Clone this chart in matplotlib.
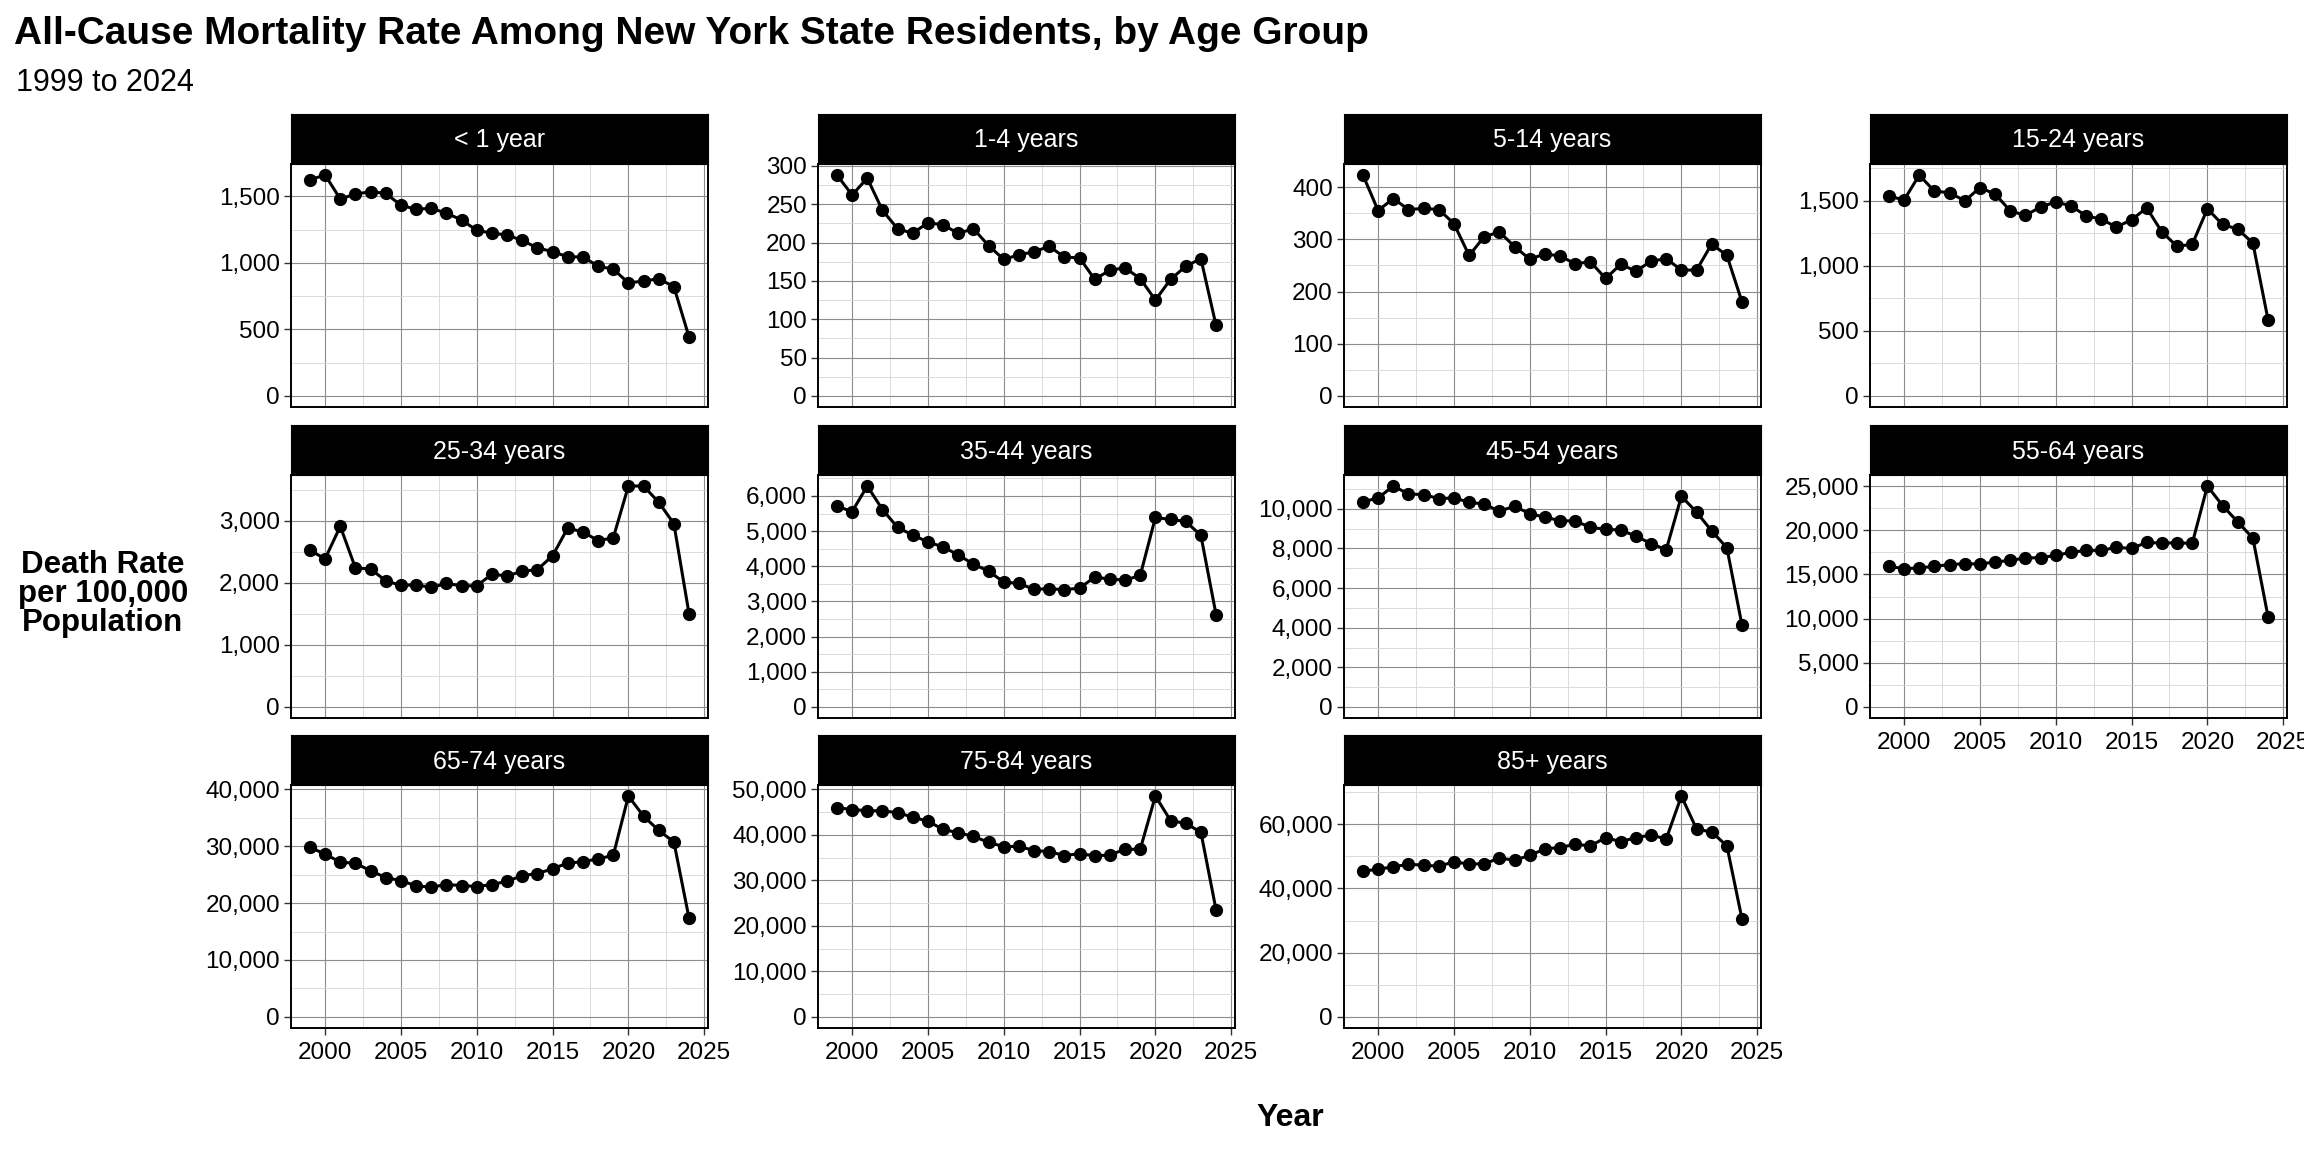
import matplotlib
matplotlib.use('Agg')
import matplotlib.pyplot as plt
from matplotlib.ticker import MultipleLocator, AutoMinorLocator, FuncFormatter

OUT = 'out.png'
FIG_W, FIG_H = 2304, 1152

TITLE = 'All-Cause Mortality Rate Among New York State Residents, by Age Group'
SUBTITLE = '1999 to 2024'
Y_LABEL = 'Death Rate\nper 100,000\nPopulation'
X_LABEL = 'Year'

years = list(range(1999, 2025))

age_groups = ['< 1 year', '1-4 years', '5-14 years', '15-24 years',
              '25-34 years', '35-44 years', '45-54 years', '55-64 years',
              '65-74 years', '75-84 years', '85+ years']

under_1 = [1625, 1660, 1480, 1517, 1535, 1522, 1433, 1403, 1410, 1373, 1323, 1244, 1224,
           1209, 1169, 1112, 1085, 1045, 1045, 975, 953, 850, 863, 881, 821, 443]
age_1_4 = [288, 262, 284, 242, 218, 212, 226, 223, 212, 218, 196, 178, 184,
           188, 195, 181, 180, 152, 164, 167, 153, 125, 152, 169, 179, 92]
age_5_14 = [423, 355, 378, 357, 359, 357, 330, 269, 305, 314, 286, 262, 272,
            268, 253, 257, 225, 252, 239, 258, 263, 241, 241, 291, 269, 180]
age_15_24 = [1536, 1508, 1699, 1574, 1564, 1500, 1602, 1553, 1424, 1388, 1454, 1492, 1462,
             1385, 1360, 1299, 1355, 1446, 1261, 1151, 1166, 1439, 1319, 1283, 1176, 586]
age_25_34 = [2521, 2388, 2910, 2239, 2223, 2032, 1957, 1968, 1926, 1989, 1952, 1952, 2138,
             2112, 2186, 2213, 2436, 2883, 2819, 2681, 2723, 3559, 3559, 3298, 2952, 1500]
age_35_44 = [5708, 5557, 6282, 5614, 5105, 4888, 4691, 4549, 4323, 4060, 3862, 3551, 3513,
             3344, 3363, 3334, 3381, 3692, 3636, 3607, 3739, 5388, 5331, 5275, 4879, 2628]
age_45_54 = [10350, 10550, 11150, 10750, 10717, 10517, 10550, 10333, 10233, 9883, 10133, 9750, 9583,
             9400, 9383, 9067, 8967, 8933, 8617, 8250, 7933, 10633, 9833, 8883, 8033, 4117]
age_55_64 = [15916, 15653, 15728, 15916, 16104, 16216, 16179, 16404, 16592, 16854, 16892, 17155, 17492,
             17718, 17718, 18056, 17943, 18619, 18544, 18581, 18506, 25000, 22785, 20946, 19107, 10210]
age_65_74 = [29797, 28580, 27188, 26957, 25681, 24464, 23942, 23014, 22783, 23246, 23072, 22899, 23246,
             23826, 24812, 25159, 26029, 27014, 27246, 27768, 28348, 38783, 35246, 32754, 30725, 17333]
age_75_84 = [46003, 45567, 45349, 45276, 44913, 43895, 43023, 41206, 40480, 39680, 38372, 37427, 37500,
             36555, 36337, 35465, 35901, 35392, 35610, 36846, 36846, 48547, 43169, 42515, 40625, 23547]
age_85_plus = [45411, 45925, 46747, 47466, 47260, 46849, 48288, 47568, 47671, 49418, 48801, 50240, 52295,
               52706, 53733, 53219, 55788, 54555, 55788, 56610, 55377, 68733, 58459, 57534, 53219, 30411]

rates = [under_1, age_1_4, age_5_14, age_15_24, age_25_34, age_35_44,
         age_45_54, age_55_64, age_65_74, age_75_84, age_85_plus]

# y break spacing per panel (free y scales)
y_steps = [500, 50, 100, 500, 1000, 1000, 2000, 5000, 10000, 10000, 20000]

# panel layout in pixels
COL_LEFT = [291, 818, 1344, 1870]
PANEL_W = 417
ROW_TOP = [164, 475, 785]
PANEL_H = 243
STRIP_H = 50

plt.rcParams['font.family'] = ['Liberation Sans', 'DejaVu Sans']

MAJOR = '#8c8c8c'
MINOR = '#d6d6d6'


def px_rect(left, top, w, h):
    return [left / FIG_W, 1 - (top + h) / FIG_H, w / FIG_W, h / FIG_H]


def draw_panel(fig, i):
    row, col = divmod(i, 4)
    left = COL_LEFT[col]
    top = ROW_TOP[row]
    ax = fig.add_axes(px_rect(left, top, PANEL_W, PANEL_H))
    vals = rates[i]
    ax.plot(years, vals, color='black', lw=2.2, marker='o', ms=8.5, zorder=3)

    top_val = max(vals)
    ax.set_ylim(-0.05 * top_val, 1.05 * top_val)
    ax.set_xlim(1997.75, 2025.25)
    ax.yaxis.set_major_locator(MultipleLocator(y_steps[i]))
    ax.yaxis.set_minor_locator(AutoMinorLocator(2))
    ax.xaxis.set_major_locator(MultipleLocator(5))
    ax.xaxis.set_minor_locator(AutoMinorLocator(2))
    ax.yaxis.set_major_formatter(FuncFormatter(lambda v, p: f'{v:,.0f}'))

    ax.grid(which='major', color=MAJOR, lw=0.8)
    ax.grid(which='minor', color=MINOR, lw=0.6)
    ax.set_axisbelow(True)
    for s in ax.spines.values():
        s.set_color('black')
        s.set_linewidth(1.4)

    ax.tick_params(axis='both', which='major', length=5, width=1.0,
                   color='#333333', labelsize=17.5, pad=3)
    ax.tick_params(axis='x', which='major', pad=5)
    ax.tick_params(axis='both', which='minor', length=0)

    # x axis only on the bottom panel of each column
    bottom = (i >= 7)
    if not bottom:
        ax.tick_params(axis='x', which='major', length=0, labelbottom=False)

    strip = fig.add_axes(px_rect(left, top - STRIP_H, PANEL_W, STRIP_H))
    strip.set_facecolor('black')
    strip.set_xticks([])
    strip.set_yticks([])
    for s in strip.spines.values():
        s.set_color('black')
    strip.text(0.5, 0.47, age_groups[i], color='white', fontsize=18,
               ha='center', va='center', transform=strip.transAxes)
    return ax


def main():
    fig = plt.figure(figsize=(FIG_W / 100, FIG_H / 100), dpi=100)
    fig.patch.set_facecolor('white')

    for i in range(len(age_groups)):
        draw_panel(fig, i)

    fig.text(14 / FIG_W, 1 - 16 / FIG_H, TITLE, fontsize=28, fontweight='bold',
             ha='left', va='top')
    fig.text(16 / FIG_W, 1 - 68 / FIG_H, SUBTITLE, fontsize=22,
             ha='left', va='top')
    fig.text(103 / FIG_W, 1 - 594 / FIG_H, Y_LABEL, fontsize=22.5, fontweight='bold',
             ha='center', va='center', linespacing=0.95)
    fig.text(1290 / FIG_W, 1 - 1118 / FIG_H, X_LABEL, fontsize=23, fontweight='bold',
             ha='center', va='center')

    fig.savefig(OUT, dpi=100)
    plt.close(fig)


if __name__ == '__main__':
    main()
